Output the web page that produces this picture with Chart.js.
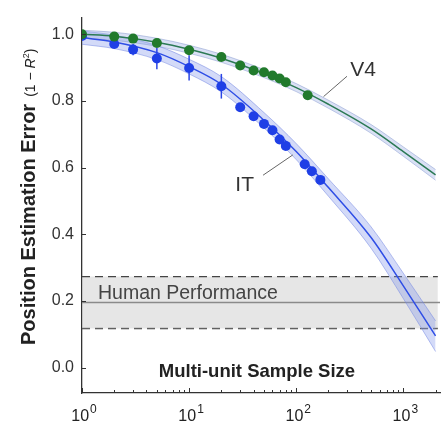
<!DOCTYPE html>
<html>
<head>
<meta charset="utf-8">
<script src="https://cdn.jsdelivr.net/npm/chart.js@4.4.1/dist/chart.umd.min.js"></script>
<style>
  body { margin: 0; background: #fff; }
  canvas { display: block; }
</style>
</head>
<body>
<canvas id="errChart" width="445" height="423"></canvas>
<script>
// sample sizes and measured errors (1 - R^2)
var v4Sizes = [1, 2, 3, 5, 10, 20, 30, 40, 50, 60, 70, 80, 128];
var v4Errors = [1.0, 0.993, 0.987, 0.974, 0.952, 0.932, 0.906, 0.891, 0.886, 0.876, 0.867, 0.856, 0.817];
var v4Sd = [0, 0.003, 0.003, 0.004, 0.004, 0.004, 0.004, 0.004, 0.004, 0.004, 0.004, 0.004, 0.004];

var itSizes = [1, 2, 3, 5, 10, 20, 30, 40, 50, 60, 70, 80, 120, 140, 168];
var itErrors = [0.995, 0.971, 0.954, 0.927, 0.899, 0.844, 0.781, 0.754, 0.731, 0.712, 0.684, 0.665, 0.61, 0.589, 0.563];
var itSd = [0, 0.012, 0.017, 0.032, 0.038, 0.037, 0.012, 0.01, 0.006, 0.006, 0.006, 0.006, 0.005, 0.005, 0.005];

// extrapolated fits with confidence bands
var fitSizes = [1, 2, 5, 10, 20, 50, 100, 200, 500, 1000, 2000];
var v4Fit = [1.0, 0.994, 0.976, 0.955, 0.928, 0.882, 0.84, 0.79, 0.716, 0.648, 0.578];
var v4Upper = [1.012, 1.006, 0.988, 0.967, 0.94, 0.894, 0.852, 0.802, 0.729, 0.662, 0.594];
var v4Lower = [0.988, 0.982, 0.964, 0.943, 0.916, 0.87, 0.828, 0.778, 0.703, 0.634, 0.562];
var itFit = [0.99, 0.977, 0.945, 0.903, 0.85, 0.742, 0.648, 0.54, 0.39, 0.245, 0.095];
var itUpper = [1.01, 0.997, 0.966, 0.925, 0.873, 0.765, 0.672, 0.566, 0.422, 0.283, 0.14];
var itLower = [0.97, 0.957, 0.924, 0.881, 0.827, 0.719, 0.624, 0.514, 0.358, 0.207, 0.048];

// human performance: mean and spread
var humanSizes = [1, 2100];
var humanMean = 0.195;
var humanHigh = 0.273;
var humanLow = 0.117;

var yTicks = [0, 0.2, 0.4, 0.6, 0.8, 1.0];
var xDecades = [1, 10, 100, 1000];

var FONT = "'Liberation Sans', Arial, Helvetica, sans-serif";

function pts(xs, ys) {
    return xs.map(function (x, i) { return { x: x, y: ys[i] }; });
}

function flat(xs, v) {
    return xs.map(function (x) { return { x: x, y: v }; });
}

var errorBars = {
    id: 'errorBars',
    afterDatasetDraw: function (chart, args) {
        if (chart.data.datasets[args.index].label !== 'V4 fit') return;
        var ctx = chart.ctx, xs = chart.scales.x, ys = chart.scales.y;
        ctx.save();
        ctx.lineWidth = 1.5;
        function bars(sizes, vals, sd, color) {
            ctx.strokeStyle = color;
            sizes.forEach(function (n, i) {
                if (!sd[i]) return;
                var px = xs.getPixelForValue(n);
                ctx.beginPath();
                ctx.moveTo(px, ys.getPixelForValue(vals[i] - sd[i]));
                ctx.lineTo(px, ys.getPixelForValue(vals[i] + sd[i]));
                ctx.stroke();
            });
        }
        bars(itSizes, itErrors, itSd, '#2a45e6');
        bars(v4Sizes, v4Errors, v4Sd, '#217a2c');
        ctx.restore();
    }
};

var decorations = {
    id: 'decorations',
    afterDraw: function (chart) {
        var ctx = chart.ctx, xs = chart.scales.x, ys = chart.scales.y;
        var area = chart.chartArea;
        ctx.save();

        // inward tick marks
        ctx.strokeStyle = '#333';
        ctx.lineWidth = 1;
        xDecades.forEach(function (d) {
            for (var k = 1; k < 10; k++) {
                var v = d * k;
                if (v > xs.max) break;
                var px = Math.round(xs.getPixelForValue(v)) + 0.5;
                var len = k === 1 ? 5 : 3;
                ctx.beginPath();
                ctx.moveTo(px, area.bottom);
                ctx.lineTo(px, area.bottom - len);
                ctx.stroke();
            }
        });
        yTicks.forEach(function (v) {
            var py = Math.round(ys.getPixelForValue(v)) + 0.5;
            ctx.beginPath();
            ctx.moveTo(area.left, py);
            ctx.lineTo(area.left + 4, py);
            ctx.stroke();
        });

        // x tick labels 10^n
        ctx.fillStyle = '#222';
        ctx.textBaseline = 'alphabetic';
        ctx.textAlign = 'left';
        xDecades.forEach(function (d, i) {
            var px = xs.getPixelForValue(d);
            ctx.font = '16px ' + FONT;
            var w1 = ctx.measureText('10').width;
            ctx.font = '12px ' + FONT;
            var w2 = ctx.measureText(String(i)).width;
            var x0 = px - (w1 + w2 + 1) / 2 + 2;
            ctx.font = '16px ' + FONT;
            ctx.fillText('10', x0, 421);
            ctx.font = '12px ' + FONT;
            ctx.fillText(String(i), x0 + w1 + 1, 413);
        });

        // y axis title
        ctx.save();
        ctx.translate(35, 345);
        ctx.rotate(-Math.PI / 2);
        ctx.fillStyle = '#222';
        ctx.font = 'bold 20px ' + FONT;
        ctx.fillText('Position Estimation Error', 0, 0);
        var tx = ctx.measureText('Position Estimation Error').width + 7;
        ctx.font = '14px ' + FONT;
        ctx.fillText('(1 \u2212 ', tx, 0);
        tx += ctx.measureText('(1 \u2212 ').width;
        ctx.font = 'italic 14px ' + FONT;
        ctx.fillText('R', tx, 0);
        tx += ctx.measureText('R').width;
        ctx.font = '9px ' + FONT;
        ctx.fillText('2', tx, -6);
        tx += ctx.measureText('2').width;
        ctx.font = '14px ' + FONT;
        ctx.fillText(')', tx, 0);
        ctx.restore();

        // x axis title, inside the plot
        ctx.font = 'bold 18.5px ' + FONT;
        ctx.textAlign = 'center';
        ctx.fillStyle = '#222';
        ctx.fillText('Multi-unit Sample Size', xs.getPixelForValue(43), ys.getPixelForValue(-0.027));

        // annotations
        ctx.textAlign = 'left';
        ctx.fillStyle = '#444';
        ctx.font = '19.5px ' + FONT;
        ctx.fillText('Human Performance', xs.getPixelForValue(1.41), ys.getPixelForValue(0.206));

        ctx.fillStyle = '#333';
        ctx.font = '21px ' + FONT;
        ctx.fillText('V4', xs.getPixelForValue(320), ys.getPixelForValue(0.874));
        ctx.fillText('IT', xs.getPixelForValue(27), ys.getPixelForValue(0.529));

        ctx.strokeStyle = '#666';
        ctx.lineWidth = 1;
        ctx.beginPath();
        ctx.moveTo(xs.getPixelForValue(298), ys.getPixelForValue(0.874));
        ctx.lineTo(xs.getPixelForValue(180), ys.getPixelForValue(0.813));
        ctx.moveTo(xs.getPixelForValue(49), ys.getPixelForValue(0.577));
        ctx.lineTo(xs.getPixelForValue(93), ys.getPixelForValue(0.638));
        ctx.stroke();

        ctx.restore();
    }
};

var datasets = [
    { label: 'V4', data: pts(v4Sizes, v4Errors), showLine: false, pointRadius: 5,
      pointBackgroundColor: '#217a2c', pointBorderWidth: 0, order: 0 },
    { label: 'IT', data: pts(itSizes, itErrors), showLine: false, pointRadius: 5,
      pointBackgroundColor: '#1f3fe6', pointBorderWidth: 0, order: 1 },
    { label: 'V4 fit', data: pts(fitSizes, v4Fit), borderColor: '#2c7a55', borderWidth: 1.5,
      pointRadius: 0, cubicInterpolationMode: 'monotone', order: 2 },
    { label: 'IT fit', data: pts(fitSizes, itFit), borderColor: '#2f4ee6', borderWidth: 1.5,
      pointRadius: 0, cubicInterpolationMode: 'monotone', order: 3 },
    { label: 'V4 hi', data: pts(fitSizes, v4Upper), borderColor: 'rgba(120,140,200,0.45)', borderWidth: 1,
      pointRadius: 0, cubicInterpolationMode: 'monotone', fill: '+1', backgroundColor: 'rgba(150,170,225,0.35)', order: 4 },
    { label: 'V4 lo', data: pts(fitSizes, v4Lower), borderColor: 'rgba(120,140,200,0.45)', borderWidth: 1,
      pointRadius: 0, cubicInterpolationMode: 'monotone', order: 5 },
    { label: 'IT hi', data: pts(fitSizes, itUpper), borderColor: 'rgba(110,130,225,0.5)', borderWidth: 1,
      pointRadius: 0, cubicInterpolationMode: 'monotone', fill: '+1', backgroundColor: 'rgba(130,150,235,0.35)', order: 6 },
    { label: 'IT lo', data: pts(fitSizes, itLower), borderColor: 'rgba(110,130,225,0.5)', borderWidth: 1,
      pointRadius: 0, cubicInterpolationMode: 'monotone', order: 7 },
    { label: 'Human mean', data: flat([1, 2200], humanMean), borderColor: '#8a8a8a', borderWidth: 1.5,
      pointRadius: 0, order: 8 },
    { label: 'Human hi', data: flat(humanSizes, humanHigh), borderColor: '#444', borderWidth: 1.3,
      borderDash: [8, 5], pointRadius: 0, fill: '+1', backgroundColor: 'rgba(200,200,200,0.45)', order: 9 },
    { label: 'Human lo', data: flat(humanSizes, humanLow), borderColor: '#444', borderWidth: 1.3,
      borderDash: [8, 5], pointRadius: 0, order: 10 }
];

var errChart = new Chart(document.getElementById('errChart'), {
    type: 'line',
    data: { datasets: datasets },
    options: {
        responsive: false,
        animation: false,
        devicePixelRatio: 1,
        layout: { padding: { top: 10, right: 5, left: 0, bottom: 0 } },
        plugins: { legend: { display: false }, tooltip: { enabled: false } },
        scales: {
            x: {
                type: 'logarithmic',
                min: 1,
                max: 2200,
                grid: { display: false, drawTicks: false },
                border: { display: true, color: '#333', width: 1.3 },
                ticks: { display: false },
                afterFit: function (scale) { scale.height = 30; }
            },
            y: {
                type: 'linear',
                min: -0.0765,
                max: 1.05,
                grid: { display: false, drawTicks: false },
                border: { display: true, color: '#333', width: 1.3 },
                afterBuildTicks: function (scale) {
                    scale.ticks = yTicks.map(function (v) { return { value: v }; });
                },
                ticks: {
                    padding: 8,
                    color: '#333',
                    font: { family: FONT, size: 16 },
                    callback: function (v) { return v.toFixed(1); }
                },
                afterFit: function (scale) { scale.width = 82; }
            }
        }
    },
    plugins: [errorBars, decorations]
});
</script>
</body>
</html>
